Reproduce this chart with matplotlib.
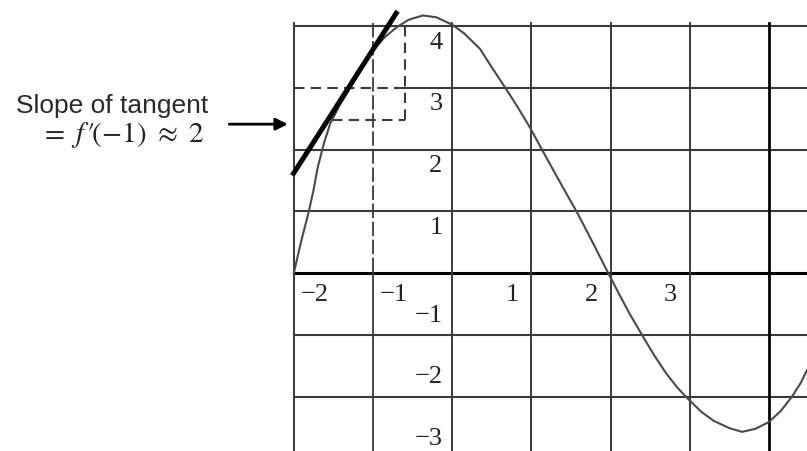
import matplotlib
matplotlib.use("Agg")
import matplotlib.pyplot as plt

plt.rcParams['mathtext.fontset'] = 'stix'

# graph of f
curve_x = [-2.0, -1.95, -1.9, -1.81, -1.75, -1.7, -1.62, -1.54, -1.42, -1.3, -1.15,
           -1.0, -0.85, -0.7, -0.55, -0.37, -0.2, 0.0, 0.15, 0.35, 0.5, 0.67, 0.82,
           0.98, 1.15, 1.37, 1.59, 1.78, 1.97, 2.12, 2.25, 2.41, 2.55, 2.7, 2.84,
           2.98, 3.15, 3.3, 3.5, 3.66, 3.83, 4.0, 4.15, 4.29, 4.4, 4.48]
curve_y = [0.0, 0.28, 0.55, 1.0, 1.35, 1.7, 2.1, 2.42, 2.72, 2.97, 3.3,
           3.6, 3.82, 3.98, 4.1, 4.17, 4.14, 4.02, 3.88, 3.63, 3.33, 3.0, 2.7,
           2.36, 1.96, 1.45, 0.95, 0.48, 0.0, -0.37, -0.68, -1.03, -1.33, -1.62, -1.85,
           -2.04, -2.25, -2.39, -2.51, -2.57, -2.52, -2.41, -2.23, -2.0, -1.78, -1.57]

# tangent at x = -1, slope f'(-1) ~ 2
tan_x0, tan_y0, tan_slope = -1.0, 3.62, 2.0
tan_xs = [-2.02, -0.69]

# slope triangle (dashed)
tri_x = [-1.52, -0.6]
tri_y = [2.48, 3.0, 4.0]

grid_x = [-2, -1, 0, 1, 2, 3, 4]
grid_y = [4, 3, 2, 1, 0, -1, -2]
xtick_vals = [-2, -1, 1, 2, 3]
xtick_lbls = ['\u22122', '\u22121', '1', '2', '3']
ytick_vals = [4, 3, 2, 1, -1, -2, -3]
ytick_lbls = ['4', '3', '2', '1', '\u22121', '\u22122', '\u22123']

x_lo, x_hi = -5.71, 4.48
y_lo, y_hi = -2.88, 4.42

fig = plt.figure(figsize=(8.07, 4.51), dpi=100)
ax = fig.add_axes([0, 0, 1, 1])
ax.set_xlim(x_lo, x_hi)
ax.set_ylim(y_lo, y_hi)
ax.axis('off')

gc = '#3a3a3a'
dash = (0, (5, 3))
# horizontal grid lines
for yv in grid_y:
    if yv == tri_y[1]:
        ax.plot([grid_x[0], tri_x[1]], [yv, yv], color=gc, lw=1.5, ls=dash)
        ax.plot([tri_x[1], x_hi], [yv, yv], color=gc, lw=1.5)
    else:
        ax.plot([grid_x[0], x_hi], [yv, yv], color=gc if yv != 0 else 'black',
                lw=1.5 if yv != 0 else 2.2)

# vertical grid lines
for xv in grid_x:
    if xv == -1:
        ax.plot([xv, xv], [4.05, 0], color=gc, lw=1.3, ls=(0, (8, 2)))
        ax.plot([xv, xv], [0, y_lo], color=gc, lw=1.3)
    else:
        ax.plot([xv, xv], [4.05, y_lo], color=gc if xv != 4 else 'black',
                lw=1.4 if xv != 4 else 2.0)

# dashed slope triangle
ax.plot([tri_x[1], tri_x[1]], [tri_y[2], tri_y[0]], color=gc, lw=1.5, ls=dash)
ax.plot([tri_x[0], tri_x[1]], [tri_y[0], tri_y[0]], color=gc, lw=1.5, ls=dash)

# the curve and its tangent
ax.plot(curve_x, curve_y, color='#4a4a4a', lw=1.5)
tan_ys = [tan_y0 + tan_slope * (x - tan_x0) for x in tan_xs]
ax.plot(tan_xs, tan_ys, color='black', lw=3.6, solid_capstyle='butt')

# tick labels
lbl = dict(textcoords='offset points', family='Liberation Serif', fontsize=19,
           color='#222222', annotation_clip=False)
for v, s in zip(xtick_vals, xtick_lbls):
    if v < 0:
        ax.annotate(s, (v, 0), xytext=(5, -8), ha='left', va='top', **lbl)
    else:
        ax.annotate(s, (v, 0), xytext=(-9, -8), ha='right', va='top', **lbl)
for v, s in zip(ytick_vals, ytick_lbls):
    if v > 0:
        ax.annotate(s, (0, v), xytext=(-7, -4), ha='right', va='top', **lbl)
    else:
        ax.annotate(s, (0, v), xytext=(-7, 6), ha='right', va='bottom', **lbl)

# annotation with arrow
ax.text(-4.29, 2.70, 'Slope of tangent', ha='center', va='center',
        family='Liberation Sans', fontsize=19, color='#2a2a2a')
ax.text(-4.17, 2.24, r"$=\ f\,\prime\!(-1)\ \approx\ 2$", ha='center', va='center',
        fontsize=21, color='#222222')
ax.annotate('', xy=(-2.04, 2.41), xytext=(-2.85, 2.41),
            arrowprops=dict(arrowstyle='-|>', color='black', lw=2, mutation_scale=18))

fig.savefig('out.png', dpi=100)
